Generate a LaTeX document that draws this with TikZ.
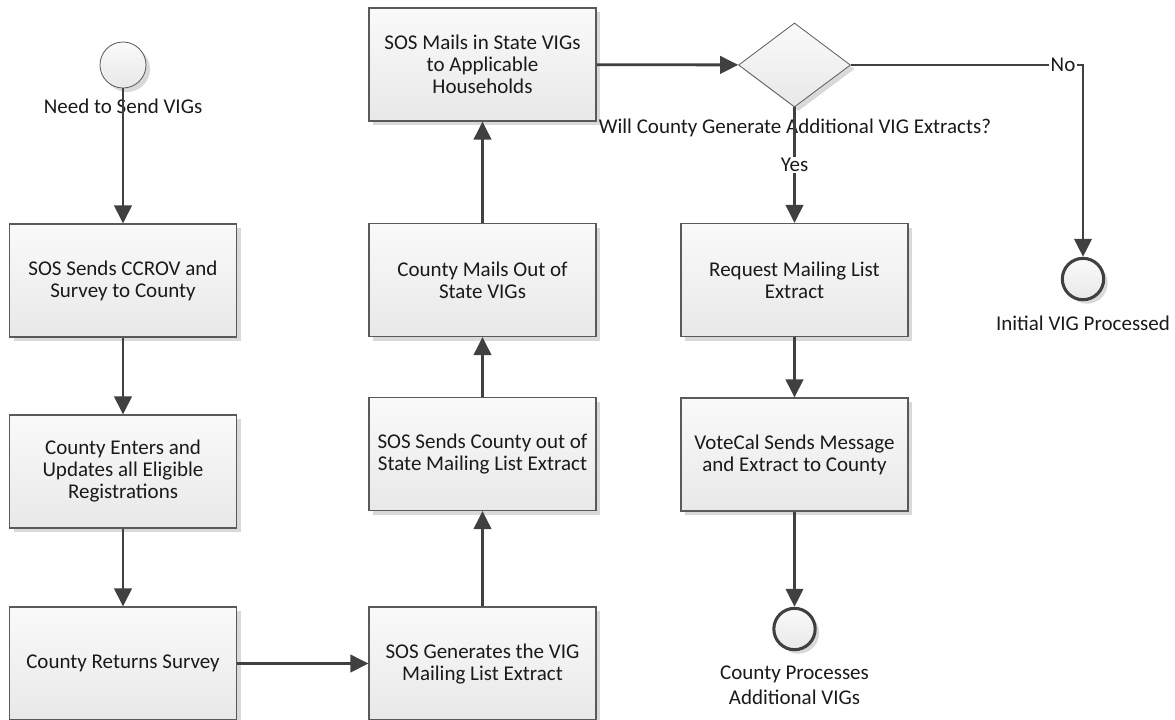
\documentclass[tikz,border=0pt]{standalone}
\usepackage{fontspec}
\setmainfont{Carlito}
\usetikzlibrary{arrows.meta,shapes.geometric,shadows}
\definecolor{linec}{HTML}{404040}
\definecolor{bordc}{HTML}{5A5A5A}
\definecolor{txtc}{HTML}{1A1A1A}
\definecolor{shadc}{HTML}{D9D9D9}
\tikzset{
  txt/.style={font=\fontsize{15.75pt}{16.5pt}\selectfont, text=txtc},
  shd/.style={drop shadow={shadow xshift=3pt, shadow yshift=-3pt, fill=shadc, opacity=1}},
  proc/.style={txt, rectangle, draw=bordc, line width=0.8pt, shd,
    top color=white!98!black, bottom color=white!91!black,
    minimum width=170.25pt, minimum height=84.75pt, inner sep=0pt, align=center},
  decision/.style={diamond, draw=bordc, line width=0.6pt, shd,
    top color=white!98!black, bottom color=white!91!black,
    minimum width=84pt, minimum height=63pt, inner sep=0pt},
  startev/.style={circle, draw=bordc, line width=0.6pt, shd,
    top color=white!98!black, bottom color=white!91!black,
    minimum size=34.5pt, inner sep=0pt},
  endev/.style={circle, draw=linec, line width=2.3pt, shd,
    top color=white!98!black, bottom color=white!91!black,
    minimum size=31pt, inner sep=0pt},
  lbl/.style={txt, align=center, inner sep=1pt},
  flow/.style={draw=linec, line width=2.1pt, -{Triangle[length=13.5pt,width=13pt]}},
  edgelbl/.style={txt, fill=white, inner sep=1pt},
}
\begin{document}
\begin{tikzpicture}[x=0.75pt,y=-0.75pt]
\useasboundingbox (0,0) rectangle (1175,719);
\clip (0,0) rectangle (1175,719);
\fill[white] (0,0) rectangle (1175,719);

% column 1
\node[startev] (s) at (123,65) {};
\node[lbl] (sl) at (123,106) {Need to Send VIGs};
\node[proc] (b1) at (123,280.5) {SOS Sends CCROV and\\Survey to County};
\node[proc] (b2) at (123,471.5) {County Enters and\\Updates all Eligible\\Registrations};
\node[proc] (b3) at (123,663.5) {County Returns Survey};

% column 2
\node[proc] (c3) at (482.5,663.5) {SOS Generates the VIG\\Mailing List Extract};
\node[proc] (c2) at (482.5,454) {SOS Sends County out of\\State Mailing List Extract};
\node[proc] (c1) at (482.5,280) {County Mails Out of\\State VIGs};
\node[proc] (c0) at (482.5,64.5) {SOS Mails in State VIGs\\to Applicable\\Households};

% column 3
\node[decision] (d) at (794.5,65) {};
\node[lbl] (dl) at (795,128) {Will County Generate Additional VIG Extracts?};
\node[proc] (r1) at (794.5,280) {Request Mailing List\\Extract};
\node[proc] (r2) at (794.5,454.5) {VoteCal Sends Message\\and Extract to County};
\node[endev] (e1) at (794.5,629) {};
\node[lbl, font=\fontsize{15.75pt}{18.75pt}\selectfont] (e1l) at (794.5,685) {County Processes\\Additional VIGs};

% no branch
\node[endev] (e2) at (1083,279) {};
\node[lbl] (e2l) at (1083,323) {Initial VIG Processed};
\coordinate (nc) at (1083,65);

% connectors
\draw[flow] (s) -- (b1);
\draw[flow] (b1) -- (b2);
\draw[flow] (b2) -- (b3);
\draw[flow] (b3) -- (c3);
\draw[flow] (c3) -- (c2);
\draw[flow] (c2) -- (c1);
\draw[flow] (c1) -- (c0);
\draw[flow] (c0) -- (d);
\draw[flow] (d) -- node[edgelbl, pos=0.5] {Yes} (r1);
\draw[flow] (r1) -- (r2);
\draw[flow] (r2) -- (e1);
\draw[flow] (d.east) -- node[edgelbl, pos=0.914] {No} (nc) -- (e2);
\end{tikzpicture}
\end{document}
